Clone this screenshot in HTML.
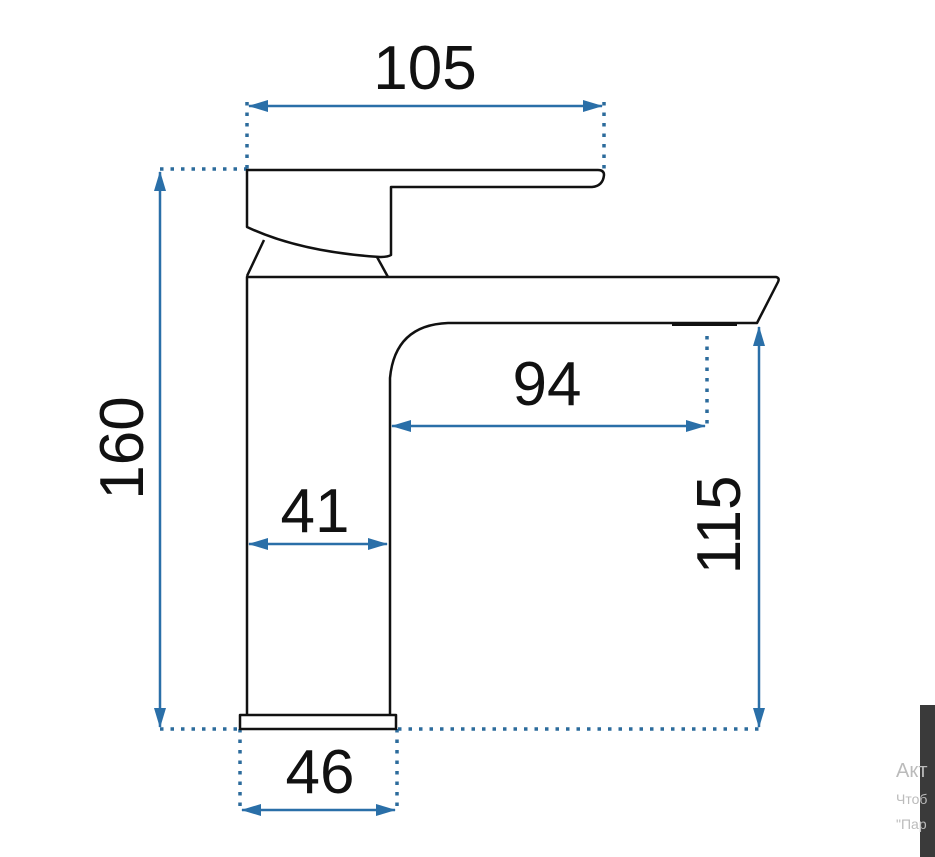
<!DOCTYPE html>
<html><head><meta charset="utf-8"><style>
html,body{margin:0;padding:0;background:#fff;width:935px;height:857px;overflow:hidden}
svg{position:absolute;left:0;top:0}
.t{font-family:"Liberation Sans",sans-serif;font-size:62px;fill:#111}
.d{stroke:#2c6b9c;stroke-width:3.5;stroke-dasharray:3.5 7;fill:none}
.a{stroke:#2a6fa8;stroke-width:2.5;fill:none}
.o{stroke:#111;stroke-width:2.5;fill:none;stroke-linejoin:round}
</style></head><body>
<svg width="935" height="857" viewBox="0 0 935 857">
<defs>
<marker id="m" viewBox="0 0 20 12" refX="19" refY="6" markerWidth="20" markerHeight="12" markerUnits="userSpaceOnUse" orient="auto-start-reverse"><path d="M0 0 L20 6 L0 12 Z" fill="#2a6fa8"/></marker>
</defs>
<!-- dotted extension lines -->
<path class="d" d="M247 102 V169 M604 102 V169 M160 169 H247 M160 729 H240 M398 729 H760 M240 729 V808 M397 729 V808 M707 336 V425"/>
<!-- arrows -->
<line class="a" x1="249" y1="106" x2="602" y2="106" marker-start="url(#m)" marker-end="url(#m)"/>
<line class="a" x1="160" y1="172" x2="160" y2="727" marker-start="url(#m)" marker-end="url(#m)"/>
<line class="a" x1="392" y1="426" x2="705" y2="426" marker-start="url(#m)" marker-end="url(#m)"/>
<line class="a" x1="249" y1="544" x2="387" y2="544" marker-start="url(#m)" marker-end="url(#m)"/>
<line class="a" x1="759" y1="327" x2="759" y2="727" marker-start="url(#m)" marker-end="url(#m)"/>
<line class="a" x1="242" y1="810" x2="395" y2="810" marker-start="url(#m)" marker-end="url(#m)"/>
<!-- faucet -->
<path class="o" d="M247 170 H598 Q604 170 604 175 Q603 186 592 187 H391 V255 Q388 257 380 257 Q300 252 247 227 Z"/>
<path class="o" d="M264 240 L247 276 M377 257 L388 277"/>
<path class="o" d="M247 714 V277 H776 Q780 278 778 282 L757 323 H448 Q395 325 390 378 V714"/>
<rect x="240" y="715" width="156" height="14" class="o"/>
<rect x="672" y="322" width="65" height="4" fill="#111"/>
<!-- text -->
<text class="t" x="425" y="89" text-anchor="middle">105</text>
<text class="t" x="547" y="405" text-anchor="middle">94</text>
<text class="t" x="315" y="532" text-anchor="middle">41</text>
<text class="t" x="320" y="793" text-anchor="middle">46</text>
<text class="t" transform="translate(143 448) rotate(-90)" text-anchor="middle">160</text>
<text class="t" transform="translate(740 525) rotate(-90)" text-anchor="middle">115</text>
<!-- overlay -->
<rect x="920" y="705" width="15" height="152" fill="#3a3a3a"/>
<text x="896" y="777" font-family="Liberation Sans,sans-serif" font-size="20" fill="#bbb">Акт</text>
<text x="896" y="804" font-family="Liberation Sans,sans-serif" font-size="14" fill="#bbb">Чтоб</text>
<text x="896" y="829" font-family="Liberation Sans,sans-serif" font-size="14" fill="#bbb">"Пар</text>
</svg>
</body></html>
